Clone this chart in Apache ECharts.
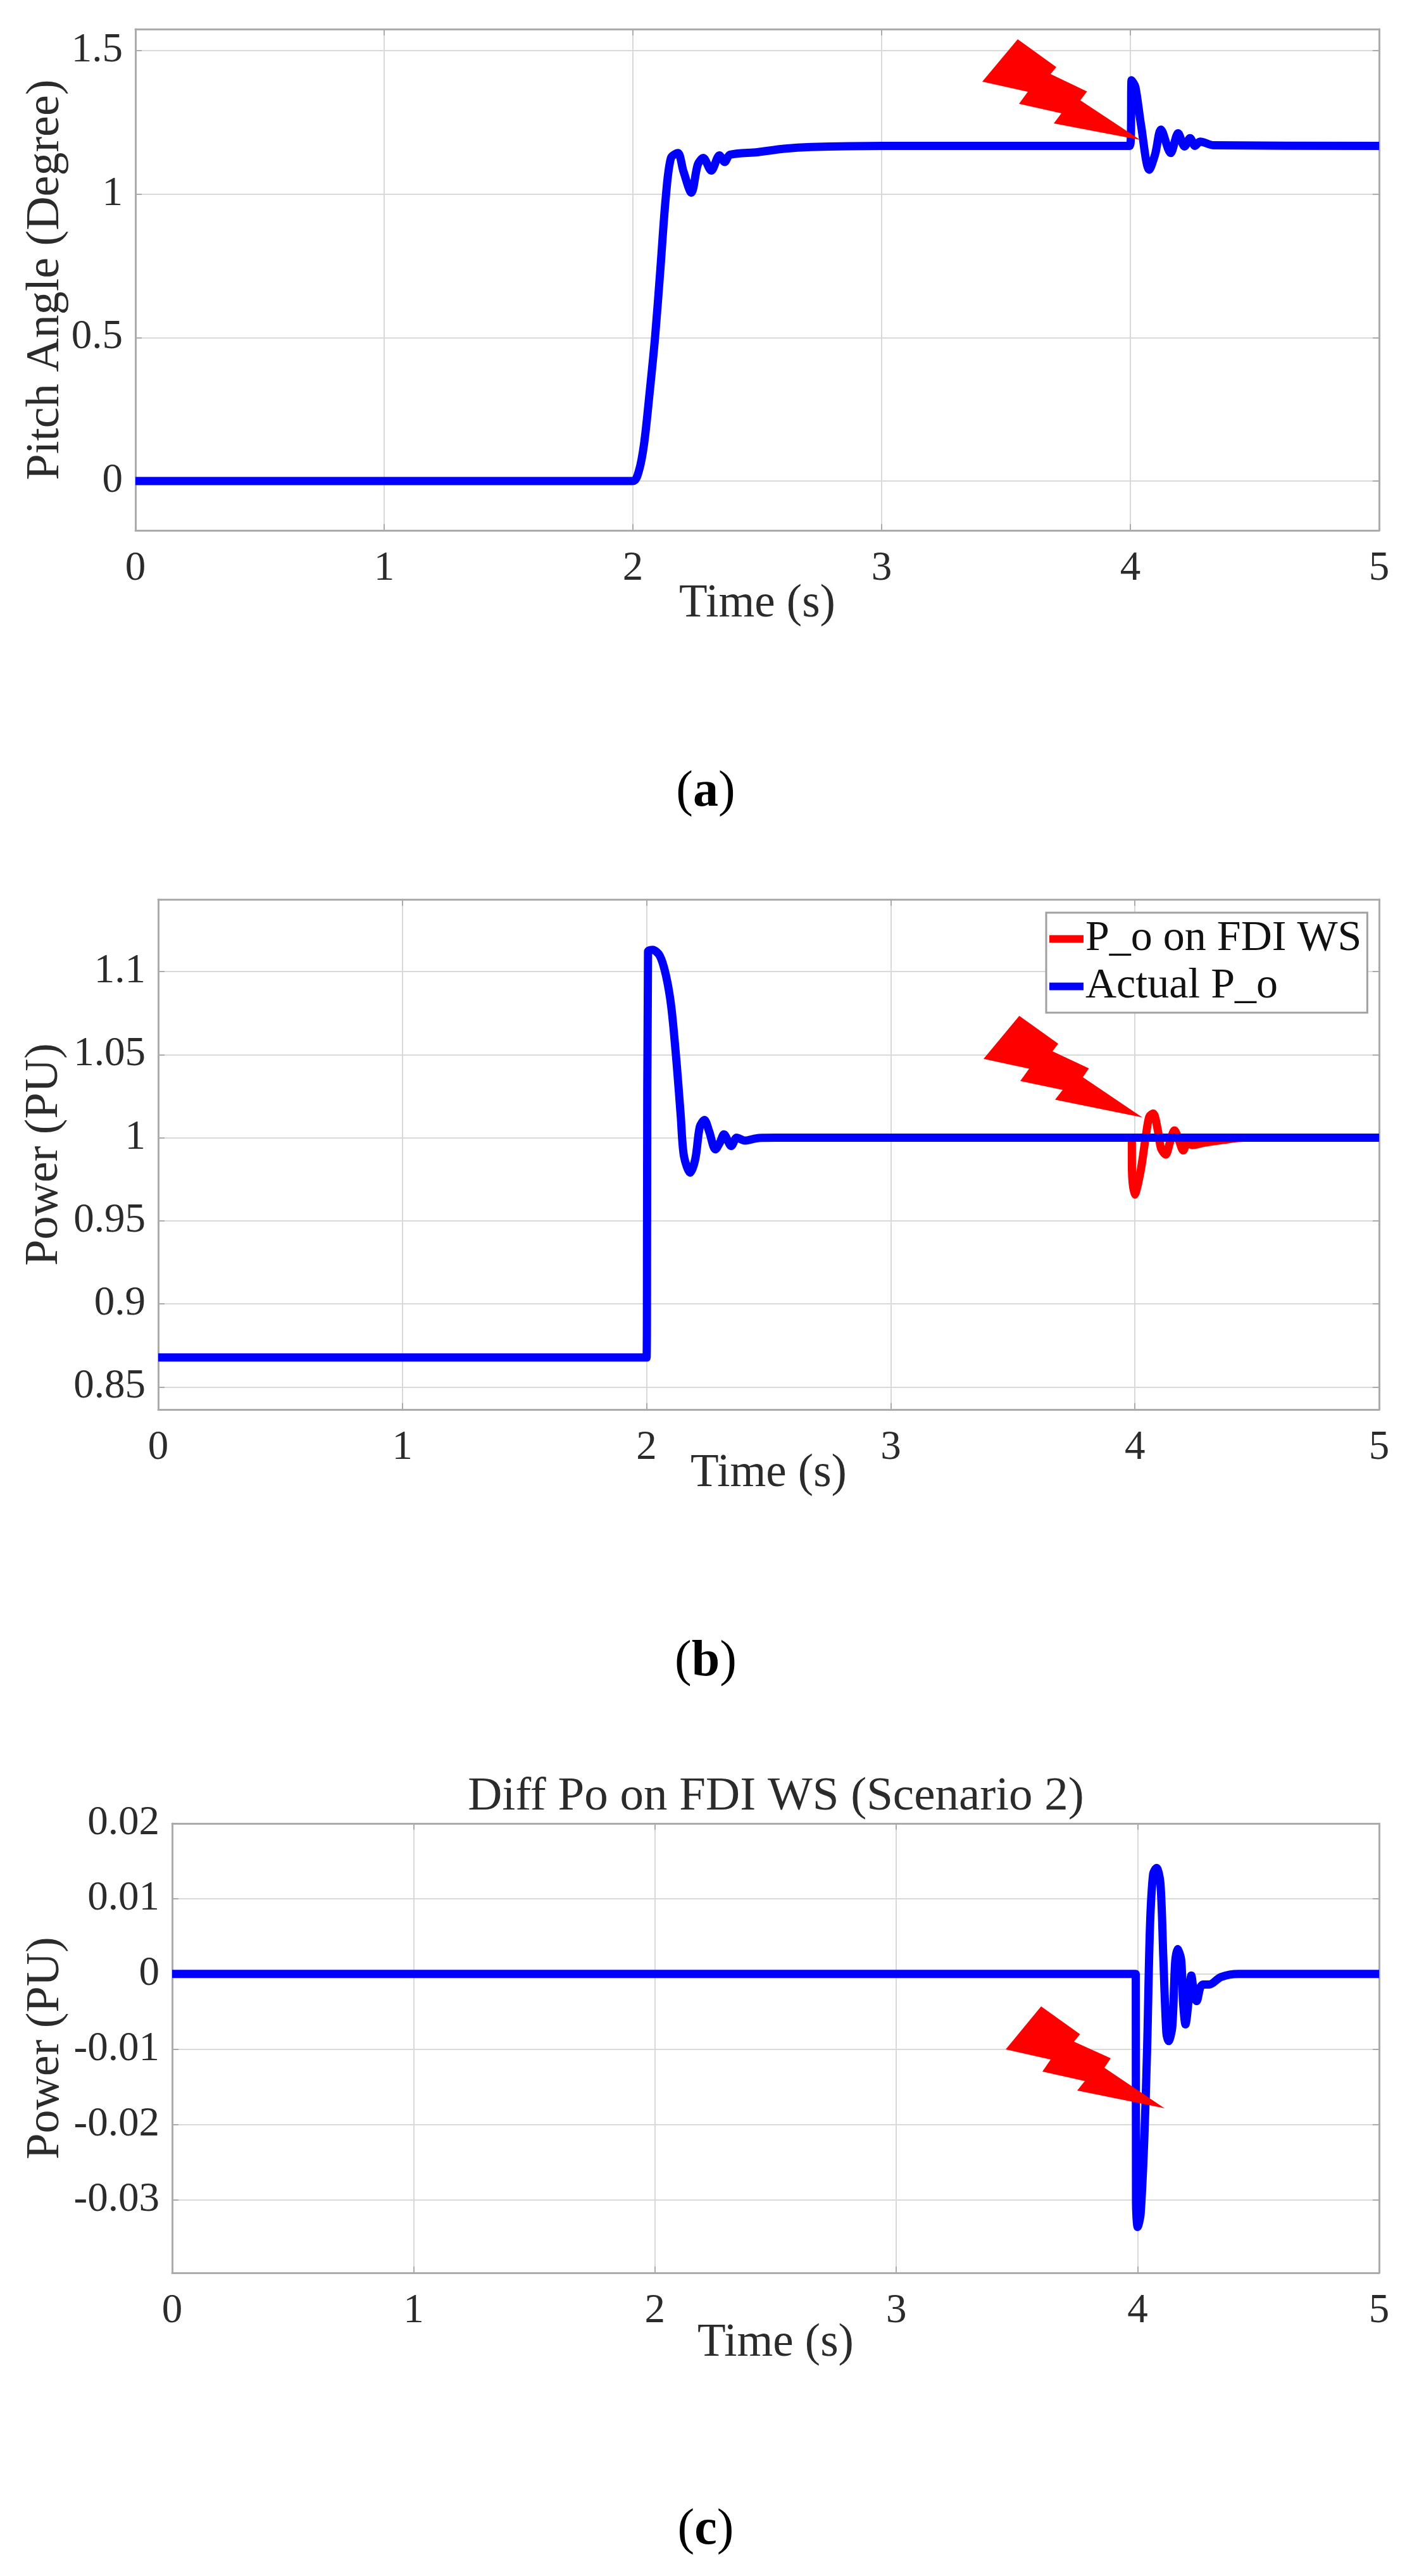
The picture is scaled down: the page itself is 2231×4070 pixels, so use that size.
<!DOCTYPE html>
<html>
<head>
<meta charset="utf-8">
<style>html,body{margin:0;padding:0;background:#fff}#c{width:2231px;height:4070px}</style>
<script src="https://cdn.jsdelivr.net/npm/echarts@6/dist/echarts.min.js"></script>
</head>
<body>
<div id="c"></div>
<script>
const xTicks = [0, 1, 2, 3, 4, 5];
const pitchYTicks = [0, 0.5, 1, 1.5];
const powerYTicks = [0.85, 0.9, 0.95, 1, 1.05, 1.1];
const diffYTicks = [-0.03, -0.02, -0.01, 0, 0.01, 0.02];

const pitchTime = [0, 2, 2.024, 2.045, 2.067, 2.089, 2.11, 2.132, 2.153, 2.181, 2.203, 2.235, 2.261, 2.283, 2.315, 2.348, 2.369, 2.39, 2.5, 2.607, 2.715, 3, 3.996, 4.002, 4.005, 4.02, 4.043, 4.076, 4.1, 4.123, 4.162, 4.192, 4.218, 4.24, 4.26, 4.28, 4.335, 5];
const pitchAngle = [0, 0, 0.035, 0.13, 0.306, 0.5, 0.733, 0.987, 1.126, 1.143, 1.08, 1.005, 1.103, 1.126, 1.082, 1.135, 1.112, 1.137, 1.146, 1.158, 1.164, 1.168, 1.168, 1.2, 1.397, 1.374, 1.24, 1.085, 1.14, 1.225, 1.143, 1.212, 1.166, 1.195, 1.168, 1.183, 1.17, 1.168];

const actualTime = [0, 2, 2.002, 2.006, 2.025, 2.054, 2.079, 2.101, 2.123, 2.14, 2.153, 2.179, 2.2, 2.218, 2.237, 2.256, 2.282, 2.3, 2.317, 2.347, 2.369, 2.403, 2.46, 2.53, 5];
const actualPower = [0.8677, 0.8677, 0.95, 1.112, 1.1131, 1.1096, 1.098, 1.079, 1.045, 1.013, 0.989, 0.979, 0.9875, 1.0066, 1.0107, 1.004, 0.993, 0.997, 1.002, 0.995, 1, 0.9983, 0.9999, 1, 1];

const fdiTime = [3.9, 3.987, 3.988, 3.999, 4.023, 4.045, 4.059, 4.075, 4.093, 4.107, 4.126, 4.144, 4.162, 4.18, 4.198, 4.216, 4.234, 4.289, 4.361, 4.446, 5];
const fdiPower = [1, 1, 0.98, 0.9658, 0.9797, 1.0013, 1.0127, 1.0146, 1.0051, 0.9937, 0.9899, 0.9975, 1.0044, 0.9987, 0.9924, 0.9975, 0.9956, 0.9972, 0.9987, 1, 1];

const diffTime = [0, 3.992, 3.993, 4, 4.012, 4.027, 4.039, 4.051, 4.064, 4.078, 4.094, 4.106, 4.119, 4.128, 4.143, 4.155, 4.165, 4.18, 4.188, 4.198, 4.21, 4.222, 4.235, 4.244, 4.259, 4.271, 4.296, 4.345, 4.418, 5];
const diffPower = [0, 0, -0.0303, -0.0336, -0.0319, -0.0222, -0.0099, 0.0064, 0.0133, 0.0141, 0.0121, 0.0023, -0.0079, -0.0089, -0.0071, 0.0015, 0.0033, 0.0019, -0.0038, -0.0067, -0.0038, -0.0002, -0.003, -0.0036, -0.0018, -0.0014, -0.0014, -0.0004, 0, 0];

const zip = (a, b) => a.map((v, i) => [v, b[i]]);
const FONT = '"Liberation Serif"';
const TXT = '#2b2b2b', FRAME = '#ababab', GRID = '#d9d9d9';

const grids = [
  { left: 214, top: 46, width: 1965, height: 792 },
  { left: 250, top: 1421, width: 1929, height: 806 },
  { left: 272, top: 2881, width: 1907, height: 710 }
];
const yRanges = [[-0.172, 1.575], [0.8364, 1.1435], [-0.0397, 0.02]];
const yTicks = [pitchYTicks, powerYTicks, diffYTicks];
const yNames = ['Pitch Angle (Degree)', 'Power (PU)', 'Power (PU)'];
const yNameGaps = [104, 142, 162];
const xNameGaps = [80, 65, 75];

const xAxes = [], yAxes = [];
grids.forEach((g, i) => {
  xAxes.push({
    type: 'value', gridIndex: i, min: 0, max: 5, interval: 1, position: 'bottom',
    name: 'Time (s)', nameLocation: 'middle', nameGap: xNameGaps[i], nameMoveOverlap: false,
    nameTextStyle: { fontFamily: FONT, fontSize: 73, color: TXT },
    axisLine: { onZero: false, lineStyle: { color: FRAME, width: 3 } },
    axisTick: { inside: true, length: 10, lineStyle: { color: FRAME, width: 2 } },
    axisLabel: { fontFamily: FONT, fontSize: 65, color: TXT, margin: 28, hideOverlap: false, showMaxLabel: true, showMinLabel: true },
    splitLine: { show: true, lineStyle: { color: GRID, width: 2 } }
  });
  xAxes.push({
    type: 'value', gridIndex: i, min: 0, max: 5, interval: 1, position: 'top',
    axisLine: { onZero: false, lineStyle: { color: FRAME, width: 3 } },
    axisTick: { inside: true, length: 10, lineStyle: { color: FRAME, width: 2 } },
    axisLabel: { show: false }, splitLine: { show: false }
  });
  yAxes.push({
    type: 'value', gridIndex: i, min: yRanges[i][0], max: yRanges[i][1], position: 'left',
    name: yNames[i], nameLocation: 'middle', nameGap: yNameGaps[i], nameRotate: 90, nameMoveOverlap: false,
    nameTextStyle: { fontFamily: FONT, fontSize: 74, color: TXT },
    axisLine: { onZero: false, lineStyle: { color: FRAME, width: 3 } },
    axisTick: { inside: true, length: 10, customValues: yTicks[i], lineStyle: { color: FRAME, width: 2 } },
    axisLabel: { fontFamily: FONT, fontSize: 65, color: TXT, margin: 20, customValues: yTicks[i], formatter: v => String(+(+v).toFixed(2)) },
    splitLine: { show: true, customValues: yTicks[i], lineStyle: { color: GRID, width: 2 } }
  });
  yAxes.push({
    type: 'value', gridIndex: i, min: yRanges[i][0], max: yRanges[i][1], position: 'right',
    axisLine: { onZero: false, lineStyle: { color: FRAME, width: 3 } },
    axisTick: { inside: true, length: 10, customValues: yTicks[i], lineStyle: { color: FRAME, width: 2 } },
    axisLabel: { show: false }, splitLine: { show: false }
  });
});

const line = (name, grid, data, color, z) => ({
  name, type: 'line', xAxisIndex: grid * 2, yAxisIndex: grid * 2, data, showSymbol: false, symbol: 'none',
  smooth: 0.3, clip: true, z, animation: false,
  lineStyle: { color, width: 13, cap: 'butt', join: 'round' }, itemStyle: { color }
});

const bolt = pts => ({ type: 'polygon', z: 100, shape: { points: pts }, style: { fill: '#ff0000' } });
const caption = (letter, y) => ({
  left: 1115, top: y, textAlign: 'center', padding: 0,
  text: '{p|(}{b|' + letter + '}{p|)}',
  textStyle: { rich: {
    p: { fontFamily: FONT, fontSize: 80, fontWeight: 'normal', color: '#000' },
    b: { fontFamily: FONT, fontSize: 80, fontWeight: 'bold', color: '#000' }
  } }
});

const chart = echarts.init(document.getElementById('c'), null, { renderer: 'canvas', width: 2231, height: 4070 });
chart.setOption({
  animation: false,
  backgroundColor: '#fff',
  grid: grids.map(g => Object.assign({ containLabel: false }, g)),
  xAxis: xAxes,
  yAxis: yAxes,
  title: [
    caption('a', 1212), caption('b', 2586), caption('c', 3958),
    { left: 1226, top: 2802, textAlign: 'center', padding: 0, text: 'Diff Po on FDI WS (Scenario 2)',
      textStyle: { fontFamily: FONT, fontSize: 75, fontWeight: 'normal', color: TXT } }
  ],
  legend: {
    orient: 'vertical', left: 1653, top: 1442, width: 510,
    padding: [4, 9, 4, 5], itemGap: 0, itemWidth: 54, itemHeight: 12,
    backgroundColor: '#fff', borderColor: '#a0a0a0', borderWidth: 3, borderRadius: 0,
    textStyle: { fontFamily: FONT, fontSize: 68, color: '#111', lineHeight: 75, padding: [0, 0, 0, -2] },
    icon: 'rect',
    data: ['P_o on FDI WS', 'Actual P_o']
  },
  series: [
    line('Pitch', 0, zip(pitchTime, pitchAngle), '#0000ff', 3),
    line('P_o on FDI WS', 1, zip(fdiTime, fdiPower), '#ff0000', 3),
    line('Actual P_o', 1, zip(actualTime, actualPower), '#0000ff', 4),
    line('Diff', 2, zip(diffTime, diffPower), '#0000ff', 3)
  ],
  graphic: [
    bolt([[1608,62],[1669,106],[1660,117],[1717.5,144.5],[1707,158.6],[1801.5,221],[1665,195],[1677,179],[1610,164],[1624,145],[1552,129]]),
    bolt([[1610.5,1605],[1672,1649],[1663,1661],[1720.5,1688],[1711,1702],[1805,1765.5],[1667,1737.6],[1679,1722],[1612,1708],[1626,1688.6],[1554,1673]]),
    bolt([[1645,3170],[1706.5,3214],[1697,3225.7],[1755,3252],[1745,3267],[1840,3331],[1702,3303],[1714,3288],[1647,3273],[1660,3254],[1589,3238]])
  ]
});
</script>
</body>
</html>
